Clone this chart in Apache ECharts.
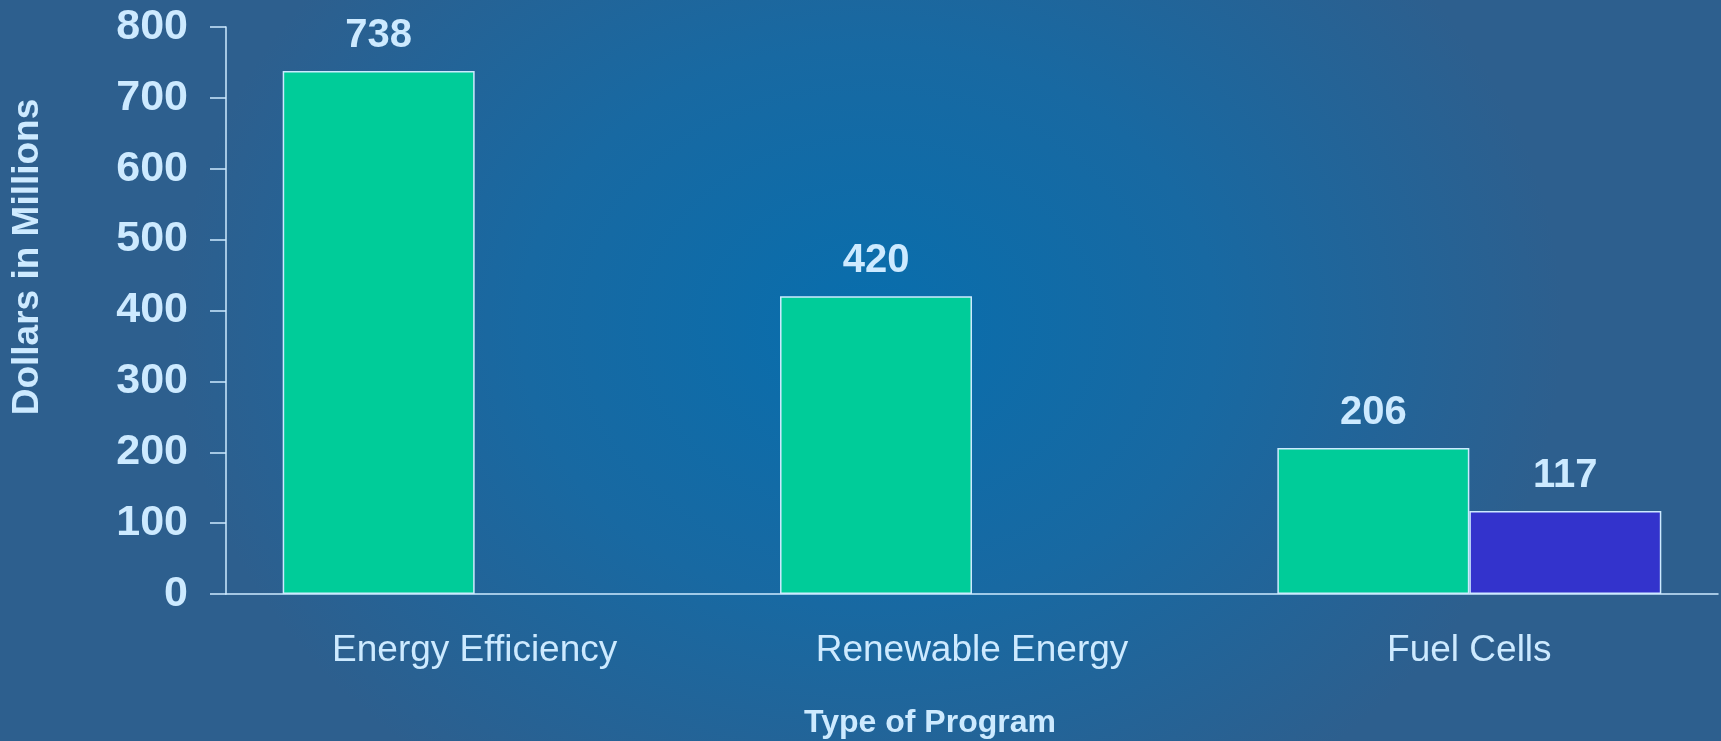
<!DOCTYPE html>
<html>
<head>
<meta charset="utf-8">
<title>Dollars in Millions by Type of Program</title>
<script src="https://cdn.jsdelivr.net/npm/echarts@6/dist/echarts.min.js"></script>
<style>
  html, body { margin: 0; padding: 0; background: #2d5f8e; }
  #chart { width: 1721px; height: 741px; }
</style>
</head>
<body>
<div id="chart"></div>
<script>
const categories = ['Energy Efficiency', 'Renewable Energy', 'Fuel Cells']
const greenValues = [738, 420, 206]
const blueValues = ['-', '-', 117]
const yTicks = [0, 100, 200, 300, 400, 500, 600, 700, 800]

const textColor = '#cdeaff'
const fontFamily = '"Liberation Sans", Arial, sans-serif'

const chart = echarts.init(document.getElementById('chart'))

// background: soft glow from the middle, stretched sideways
const bgScaleX = 1.232
const background = {
  type: 'rect',
  z: -100,
  silent: true,
  scaleX: bgScaleX,
  shape: { x: 0, y: 0, width: 1721 / bgScaleX, height: 741 },
  style: {
    fill: {
      type: 'radial',
      x: 0.505,
      y: 0.44,
      r: 0.76,
      colorStops: [
        { offset: 0, color: '#086ead' },
        { offset: 0.5, color: '#1869a2' },
        { offset: 1, color: '#2d5f8e' }
      ]
    }
  }
}

const barLabel = {
  show: true,
  position: 'top',
  distance: 15,
  color: textColor,
  fontFamily: fontFamily,
  fontWeight: 'bold',
  fontSize: 40
}

const option = {
  backgroundColor: '#2d5f8e',
  animation: false,
  graphic: [
    background,
    {
      type: 'text',
      x: 28,
      y: 257,
      rotation: Math.PI / 2,
      silent: true,
      style: {
        text: 'Dollars in Millions',
        fill: textColor,
        font: 'bold 37px ' + fontFamily,
        textAlign: 'center',
        textVerticalAlign: 'middle'
      }
    },
    {
      type: 'text',
      x: 930,
      y: 723,
      silent: true,
      style: {
        text: 'Type of Program',
        fill: textColor,
        font: 'bold 32px ' + fontFamily,
        textAlign: 'center',
        textVerticalAlign: 'middle'
      }
    }
  ],
  grid: {
    left: 226,
    right: 3,
    top: 27,
    bottom: 147,
    containLabel: false
  },
  xAxis: {
    type: 'category',
    data: categories,
    axisLine: { lineStyle: { color: textColor, width: 1.5 } },
    axisTick: { show: false },
    axisLabel: {
      color: textColor,
      fontFamily: fontFamily,
      fontSize: 37,
      margin: 38
    }
  },
  yAxis: {
    type: 'value',
    min: yTicks[0],
    max: yTicks[yTicks.length - 1],
    interval: 100,
    axisLine: { show: true, lineStyle: { color: textColor, width: 1.5 } },
    axisTick: { show: true, length: 16, lineStyle: { color: textColor, width: 1.5 } },
    splitLine: { show: false },
    axisLabel: {
      color: textColor,
      fontFamily: fontFamily,
      fontWeight: 'bold',
      fontSize: 43,
      margin: 38
    }
  },
  series: [
    {
      name: 'Program',
      type: 'bar',
      data: greenValues,
      barGap: '0%',
      barCategoryGap: '22.8%',
      itemStyle: { color: '#00cc99', borderColor: textColor, borderWidth: 1.5 },
      label: barLabel
    },
    {
      name: 'Fuel Cells extra',
      type: 'bar',
      data: blueValues,
      itemStyle: { color: '#3333cc', borderColor: textColor, borderWidth: 1.5 },
      label: barLabel
    }
  ]
}

chart.setOption(option)
</script>
</body>
</html>
